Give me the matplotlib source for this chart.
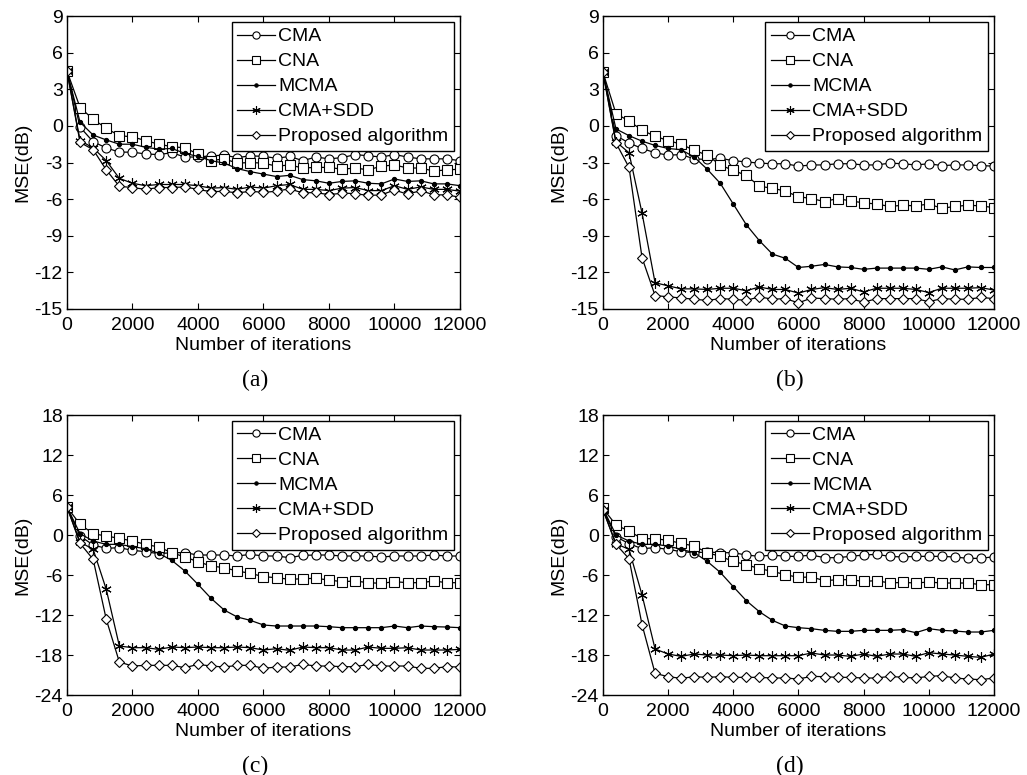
import numpy as np
import matplotlib.pyplot as plt

plt.rcParams['font.family'] = ['Liberation Sans', 'DejaVu Sans']
plt.rcParams['font.size'] = 14
plt.rcParams['axes.unicode_minus'] = False

# iterations, one point every 400
iters = np.arange(0, 12001, 400)

# ---- (a)
a_cma = [4.5, -0.1, -1.3, -1.8, -2.15, -2.15, -2.3, -2.35, -2.2, -2.55, -2.55, -2.45, -2.4, -2.6, -2.45, -2.5,
         -2.65, -2.5, -2.85, -2.55, -2.7, -2.6, -2.35, -2.45, -2.55, -2.35, -2.55, -2.7, -2.7, -2.7, -2.85]
a_cna = [4.5, 1.5, 0.55, -0.2, -0.8, -0.9, -1.2, -1.5, -1.7, -1.8, -2.3, -2.85, -2.7, -3.05, -3.0, -3.05,
         -3.3, -3.2, -3.45, -3.4, -3.4, -3.55, -3.45, -3.6, -3.3, -3.2, -3.45, -3.45, -3.7, -3.6, -3.55]
a_mcma = [4.5, 0.3, -0.75, -1.15, -1.5, -1.5, -1.75, -1.9, -1.85, -2.25, -2.5, -2.85, -3.05, -3.5, -3.75, -3.95,
          -4.15, -4.05, -4.4, -4.5, -4.7, -4.55, -4.5, -4.7, -4.75, -4.35, -4.55, -4.5, -4.75, -4.75, -4.9]
a_sdd = [4.5, -1.2, -1.8, -2.85, -4.3, -4.7, -4.9, -4.8, -4.8, -4.8, -4.9, -5.1, -5.05, -5.2, -5.0, -5.1,
         -4.9, -4.8, -5.2, -5.2, -5.3, -5.1, -5.05, -5.3, -5.3, -4.9, -5.2, -5.0, -5.2, -5.2, -5.35]
a_prop = [4.5, -1.35, -1.95, -3.6, -4.95, -5.05, -5.2, -5.05, -5.05, -5.0, -5.2, -5.4, -5.35, -5.5, -5.35, -5.45,
          -5.35, -5.15, -5.5, -5.45, -5.65, -5.5, -5.55, -5.7, -5.65, -5.25, -5.6, -5.3, -5.65, -5.65, -5.85]

# ---- (b)
b_cma = [4.4, -0.8, -1.4, -1.85, -2.2, -2.4, -2.35, -2.7, -2.75, -2.65, -2.85, -2.95, -3.05, -3.1, -3.1, -3.3,
         -3.2, -3.2, -3.1, -3.1, -3.2, -3.2, -3.05, -3.1, -3.2, -3.1, -3.25, -3.2, -3.2, -3.25, -3.3]
b_cna = [4.4, 1.0, 0.4, -0.35, -0.85, -1.2, -1.5, -2.0, -2.4, -3.2, -3.65, -4.05, -4.95, -5.1, -5.35, -5.8,
         -5.95, -6.2, -5.95, -6.15, -6.3, -6.4, -6.6, -6.5, -6.55, -6.4, -6.75, -6.6, -6.5, -6.55, -6.7]
b_mcma = [4.4, -0.25, -0.8, -1.25, -1.6, -1.85, -1.95, -2.55, -3.55, -4.7, -6.4, -8.1, -9.4, -10.5, -10.85, -11.6,
          -11.5, -11.35, -11.55, -11.6, -11.75, -11.65, -11.65, -11.65, -11.65, -11.75, -11.55, -11.8, -11.55, -11.6, -11.6]
b_sdd = [4.4, -1.3, -2.2, -7.15, -12.85, -13.1, -13.35, -13.35, -13.4, -13.3, -13.3, -13.5, -13.2, -13.4, -13.4, -13.7,
         -13.4, -13.25, -13.4, -13.3, -13.6, -13.3, -13.3, -13.3, -13.4, -13.65, -13.3, -13.3, -13.3, -13.25, -13.45]
b_prop = [4.4, -1.4, -3.4, -10.8, -13.9, -14.0, -14.1, -14.2, -14.3, -14.15, -14.2, -14.3, -14.0, -14.2, -14.15, -14.5,
          -14.1, -14.15, -14.2, -14.15, -14.45, -14.15, -14.15, -14.15, -14.15, -14.4, -14.15, -14.2, -14.2, -14.05, -14.15]

# ---- (c)
c_cma = [4.2, -0.15, -1.5, -2.0, -1.9, -2.3, -2.5, -2.8, -2.65, -2.65, -3.0, -3.0, -3.0, -3.15, -2.9, -3.15,
         -3.15, -3.4, -3.05, -3.0, -3.0, -3.15, -3.15, -3.15, -3.3, -3.15, -3.15, -3.15, -3.0, -3.15, -3.15]
c_cna = [4.2, 1.6, 0.2, -0.15, -0.5, -0.9, -1.4, -1.8, -2.65, -3.3, -4.0, -4.65, -4.9, -5.4, -5.75, -6.25,
         -6.4, -6.65, -6.55, -6.5, -6.75, -7.0, -6.9, -7.15, -7.25, -7.0, -7.15, -7.15, -6.9, -7.15, -7.15]
c_mcma = [4.2, 0.2, -0.9, -1.4, -1.4, -1.75, -2.05, -2.75, -3.8, -5.4, -7.4, -9.5, -11.25, -12.3, -12.8, -13.5,
          -13.65, -13.65, -13.65, -13.65, -13.75, -13.9, -13.9, -13.9, -13.9, -13.65, -13.9, -13.65, -13.75, -13.8, -13.9]
c_sdd = [4.2, -1.05, -2.15, -8.15, -16.65, -16.9, -16.9, -17.15, -16.8, -16.9, -16.8, -16.9, -16.9, -16.8, -16.9, -17.25,
         -17.05, -17.3, -16.8, -16.9, -16.9, -17.25, -17.25, -16.8, -17.0, -17.0, -16.9, -17.25, -17.25, -17.25, -17.15]
c_prop = [4.2, -1.25, -3.65, -12.65, -19.05, -19.65, -19.55, -19.55, -19.55, -19.9, -19.4, -19.65, -19.8, -19.55, -19.55, -20.0,
          -19.8, -19.8, -19.4, -19.65, -19.65, -19.75, -19.75, -19.4, -19.65, -19.65, -19.65, -20.0, -20.0, -19.75, -19.8]

# ---- (d)
d_cma = [3.8, -0.25, -1.3, -2.05, -1.9, -2.15, -2.5, -2.65, -2.55, -2.65, -2.65, -3.0, -3.2, -3.0, -3.2, -3.2,
         -3.0, -3.4, -3.4, -3.2, -3.0, -2.9, -3.2, -3.3, -3.2, -3.2, -3.2, -3.3, -3.5, -3.5, -3.25]
d_cna = [4.0, 1.5, 0.6, -0.55, -0.55, -0.8, -1.25, -1.65, -2.65, -3.2, -3.95, -4.45, -5.05, -5.45, -5.95, -6.35,
         -6.3, -6.85, -6.7, -6.7, -6.95, -6.85, -7.2, -7.1, -7.2, -7.05, -7.2, -7.2, -7.2, -7.45, -7.45]
d_mcma = [4.0, 0.0, -0.9, -1.4, -1.4, -1.65, -2.15, -2.65, -3.95, -5.6, -7.75, -9.85, -11.5, -12.8, -13.65, -13.9,
          -14.05, -14.3, -14.45, -14.45, -14.3, -14.3, -14.3, -14.2, -14.65, -14.05, -14.3, -14.4, -14.55, -14.55, -14.3]
d_sdd = [3.8, -1.3, -2.15, -9.0, -17.1, -17.85, -18.2, -17.85, -18.0, -18.0, -18.1, -18.0, -18.1, -18.1, -18.1, -18.1,
         -17.7, -18.0, -18.0, -18.2, -17.85, -18.2, -17.85, -17.85, -18.2, -17.65, -17.85, -18.0, -18.2, -18.35, -17.85]
d_prop = [3.8, -1.4, -3.55, -13.45, -20.75, -21.25, -21.5, -21.25, -21.35, -21.25, -21.35, -21.35, -21.35, -21.45, -21.45, -21.6,
          -21.2, -21.25, -21.35, -21.35, -21.45, -21.45, -21.2, -21.35, -21.45, -21.2, -21.1, -21.45, -21.6, -21.7, -21.45]

names = ['CMA', 'CNA', 'MCMA', 'CMA+SDD', 'Proposed algorithm']
panels = [
    ('(a)', [a_cma, a_cna, a_mcma, a_sdd, a_prop], (-15, 9), np.arange(-15, 10, 3)),
    ('(b)', [b_cma, b_cna, b_mcma, b_sdd, b_prop], (-15, 9), np.arange(-15, 10, 3)),
    ('(c)', [c_cma, c_cna, c_mcma, c_sdd, c_prop], (-24, 18), np.arange(-24, 19, 6)),
    ('(d)', [d_cma, d_cna, d_mcma, d_sdd, d_prop], (-24, 18), np.arange(-24, 19, 6)),
]

# marker styles like the matlab figure
styles = [dict(marker='o', ms=6.5, mfc='white'),
          dict(marker='s', ms=6.5, mfc='white'),
          dict(marker='.', ms=6),
          dict(marker=(6, 2, 0), ms=7.5),
          dict(marker='D', ms=5, mfc='white')]

fig = plt.figure(figsize=(10.27, 7.75), dpi=100)
rects = [[0.0652, 0.6013, 0.3827, 0.378],
         [0.5871, 0.6013, 0.3807, 0.378],
         [0.0652, 0.1032, 0.3827, 0.3613],
         [0.5871, 0.1032, 0.3807, 0.3613]]

for rect, (tag, series, ylim, yticks) in zip(rects, panels):
    ax = fig.add_axes(rect)
    for nm, ys, st in zip(names, series, styles):
        ax.plot(iters, ys, color='black', lw=0.9, mec='black', mew=0.8, label=nm, **st)
    ax.set_xlim(0, 12000)
    ax.set_ylim(*ylim)
    ax.set_xticks(np.arange(0, 12001, 2000))
    ax.set_yticks(yticks)
    ax.tick_params(direction='in', top=True, right=True, length=4, width=0.8, labelsize=14)
    ax.tick_params(axis='x', pad=6)
    ax.tick_params(axis='y', pad=3)
    for sp in ax.spines.values():
        sp.set_linewidth(1.0)
    ax.set_xlabel('Number of iterations', fontsize=14, labelpad=2)
    ax.set_ylabel('MSE(dB)', fontsize=14, labelpad=2)
    leg = ax.legend(loc='upper right', fontsize=14, frameon=True, fancybox=False, edgecolor='black',
                    framealpha=1, borderpad=0.3, labelspacing=0.38, handlelength=1.95,
                    handletextpad=0.15, borderaxespad=0.3, markerscale=0.8)
    leg.get_frame().set_linewidth(1.0)
    fig.text(rect[0] + rect[2] / 2 - 0.008, rect[1] - 0.092, tag, ha='center', va='center',
             fontsize=17, family='Liberation Serif')

fig.savefig('out.png', dpi=100)
